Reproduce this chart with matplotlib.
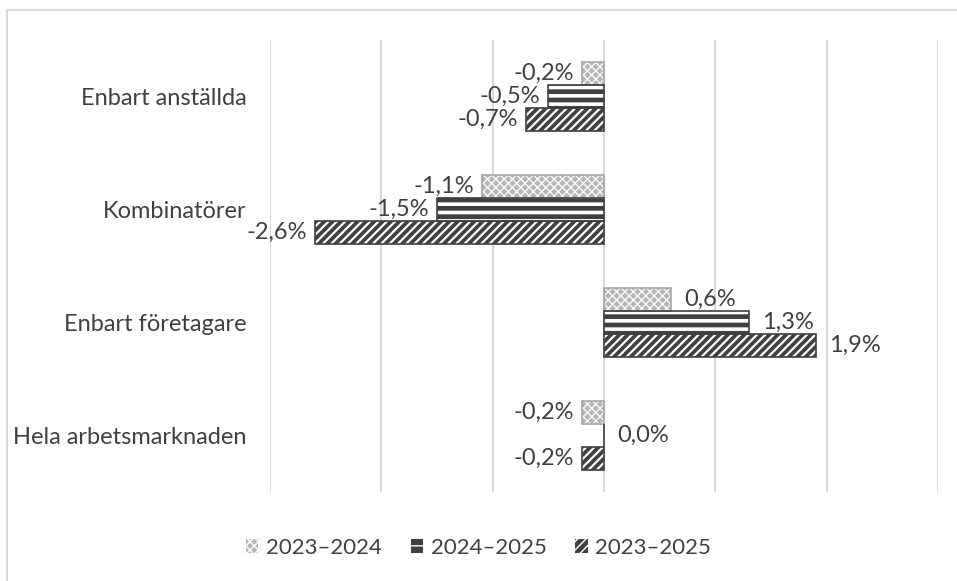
import matplotlib
matplotlib.use("Agg")
import matplotlib.pyplot as plt
from matplotlib.patches import Rectangle, Patch
import numpy as np

categories = ["Enbart anställda", "Kombinatörer", "Enbart företagare", "Hela arbetsmarknaden"]
series_names = ["2023–2024", "2024–2025", "2023–2025"]
v_2023_2024 = [-0.2, -1.1, 0.6, -0.2]
v_2024_2025 = [-0.5, -1.5, 1.3, 0.0]
v_2023_2025 = [-0.7, -2.6, 1.9, -0.2]
values = [v_2023_2024, v_2024_2025, v_2023_2025]

plt.rcParams['font.family'] = ['Lato', 'DejaVu Sans']
txt = '#404040'
FS = 17

fig = plt.figure(figsize=(9.57, 5.81), dpi=100)
ax = fig.add_axes([270/957, 1-492/581, (938-270)/957, (492-40)/581])

# outer border
fig.patches.append(Rectangle((7/957, -0.1), 1.2, 1 - 10/581 + 0.1, transform=fig.transFigure,
                             fill=False, edgecolor='#d9d9d9', linewidth=1.5))

styles = [
    dict(face='#b5b5b5', hatch='xxxx', hcol='white', edge='#a6a6a6', hlw=0.9),
    dict(face='#404040', hatch='--', hcol='white', edge='#404040', hlw=2.6),
    dict(face='#404040', hatch='////', hcol='white', edge='#404040', hlw=1.6),
]

y = np.arange(len(categories))
h = 0.205
for i, (vals, st) in enumerate(zip(values, styles)):
    pos = y + (i - 1) * h
    with plt.rc_context({'hatch.linewidth': st['hlw']}):
        ax.barh(pos, vals, height=h, color=st['face'], hatch=st['hatch'],
                edgecolor=st['hcol'], linewidth=0, zorder=3)
    ax.barh(pos, vals, height=h, fill=False, edgecolor=st['edge'], linewidth=1.2, zorder=4)
    for p, v in zip(pos, vals):
        s = f"{v:.1f}%".replace('.', ',')
        if v < 0:
            ax.text(v - 0.07, p, s, ha='right', va='center', fontsize=FS, color=txt)
        else:
            ax.text(v + 0.12, p, s, ha='left', va='center', fontsize=FS, color=txt)

ax.set_xlim(-3, 3)
ax.set_ylim(len(categories) - 0.5, -0.5)
ax.set_xticks(np.arange(-3, 3.01, 1))
ax.set_xticklabels([])
ax.tick_params(axis='x', length=0)
ax.tick_params(axis='y', length=0, labelsize=FS, labelcolor=txt, pad=17)
ax.set_yticks(y)
ax.set_yticklabels(categories)
ax.grid(axis='x', color='#d9d9d9', linewidth=1.5, zorder=0)
for sp in ax.spines.values():
    sp.set_visible(False)

handles = []
for st in styles:
    with plt.rc_context({'hatch.linewidth': st['hlw']}):
        handles.append(Patch(facecolor=st['face'], hatch=st['hatch'], edgecolor=st['hcol'], linewidth=0))
fig.legend(handles, series_names, loc='center', bbox_to_anchor=(0.5, 1 - 548/581), ncol=3,
           frameon=False, fontsize=16, labelcolor=txt, handlelength=0.55, handleheight=0.55,
           handletextpad=0.35, columnspacing=1.3)

fig.savefig('out.png', dpi=100)
